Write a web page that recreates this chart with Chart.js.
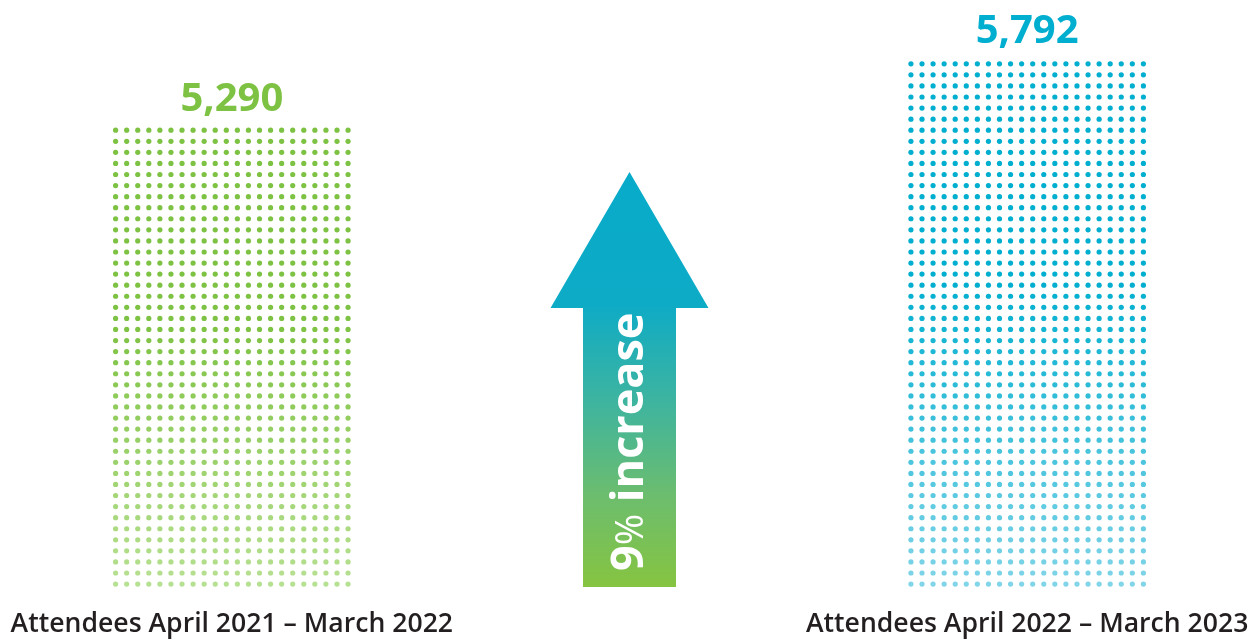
<!DOCTYPE html>
<html>
<head>
<meta charset="utf-8">
<style>
  html, body { margin: 0; padding: 0; background: #fff; overflow: hidden; }
</style>
<script src="https://cdn.jsdelivr.net/npm/chart.js@4.4.1/dist/chart.umd.min.js"></script>
</head>
<body>
<canvas id="attendeesChart" width="1260" height="639"></canvas>
<script>
// data
const categories = ['Attendees April 2021 – March 2022', '', 'Attendees April 2022 – March 2023'];
const attendees = [5290, null, 5792];
const valueLabels = ['5,290', '', '5,792'];
const increaseText = ['9', '%', ' increase'];

// colours (top of bar -> bottom of bar)
const topColors = ['#7dc242', null, '#00aecf'];
const bottomColors = ['#b8e193', null, '#82d5e8'];

const yMin = 1850, yMax = 6170;
const DOT_PITCH = 11.07, DOT_R = 2.6;
const FONT = '"Open Sans", "Noto Sans", sans-serif';

function hexToRgb(h) {
    const n = parseInt(h.slice(1), 16);
    return [(n >> 16) & 255, (n >> 8) & 255, n & 255];
}
function mix(a, b, t) {
    const ca = hexToRgb(a), cb = hexToRgb(b);
    return `rgb(${ca.map((v, i) => Math.round(v + (cb[i] - v) * t)).join(',')})`;
}

/**
 * 막대를 점 패턴으로 그리고 위에 값 라벨을 붙입니다.
 */
const dotBarsPlugin = {
    id: 'dotBars',
    afterDatasetsDraw(chart) {
        const ctx = chart.ctx;
        const meta = chart.getDatasetMeta(0);
        meta.data.forEach((bar, i) => {
            if (attendees[i] == null) return;
            const { x, y, base, width } = bar.getProps(['x', 'y', 'base', 'width'], true);
            const cols = Math.round(width / DOT_PITCH);
            const x0 = x - (cols - 1) * DOT_PITCH / 2;
            const fadeStart = y + (base - y) * 0.42;
            ctx.save();
            for (let cy = base - 3; cy >= y + 2; cy -= DOT_PITCH) {
                const t = Math.max(0, (cy - fadeStart) / (base - fadeStart));
                ctx.fillStyle = mix(topColors[i], bottomColors[i], t);
                for (let c = 0; c < cols; c++) {
                    ctx.beginPath();
                    ctx.arc(x0 + c * DOT_PITCH, cy, DOT_R, 0, Math.PI * 2);
                    ctx.fill();
                }
            }
            // 값 라벨
            ctx.fillStyle = topColors[i];
            ctx.font = `bold 40px ${FONT}`;
            ctx.textAlign = 'center';
            ctx.textBaseline = 'alphabetic';
            ctx.fillText(valueLabels[i], x, y - 17);
            ctx.restore();
        });
    }
};

/**
 * 가운데 증가 화살표
 */
const arrowPlugin = {
    id: 'increaseArrow',
    afterDatasetsDraw(chart) {
        const ctx = chart.ctx;
        const cx = chart.scales.x.getPixelForValue(1);
        const base = chart.scales.y.bottom;
        const headTop = 172, headBase = 308, headHalf = 79, shaftHalf = 46.5;

        ctx.save();
        const grad = ctx.createLinearGradient(0, headTop, 0, base);
        grad.addColorStop(0, '#07abca');
        grad.addColorStop(0.32, '#0eabc6');
        grad.addColorStop(0.55, '#3db4a0');
        grad.addColorStop(0.78, '#6cbd6e');
        grad.addColorStop(1, '#86c440');
        ctx.fillStyle = grad;
        ctx.beginPath();
        ctx.moveTo(cx, headTop);
        ctx.lineTo(cx + headHalf, headBase);
        ctx.lineTo(cx + shaftHalf, headBase);
        ctx.lineTo(cx + shaftHalf, base);
        ctx.lineTo(cx - shaftHalf, base);
        ctx.lineTo(cx - shaftHalf, headBase);
        ctx.lineTo(cx - headHalf, headBase);
        ctx.closePath();
        ctx.fill();

        // 세로 텍스트
        ctx.translate(cx + 13, 571);
        ctx.rotate(-Math.PI / 2);
        ctx.fillStyle = '#ffffff';
        ctx.textBaseline = 'alphabetic';
        ctx.textAlign = 'left';
        const fonts = [`bold 45px ${FONT}`, `38px ${FONT}`, `bold 45px ${FONT}`];
        let px = 0;
        increaseText.forEach((part, k) => {
            ctx.font = fonts[k];
            ctx.fillText(part, px, 0);
            px += ctx.measureText(part).width;
        });
        ctx.restore();
    }
};

new Chart(document.getElementById('attendeesChart'), {
    type: 'bar',
    data: {
        labels: categories,
        datasets: [{
            data: attendees,
            base: yMin,
            backgroundColor: 'rgba(0,0,0,0)',
            borderWidth: 0,
            barThickness: 244
        }]
    },
    options: {
        responsive: false,
        animation: false,
        devicePixelRatio: 1,
        layout: { padding: { top: 10, left: 33, right: 34, bottom: 0 } },
        plugins: { legend: { display: false }, tooltip: { enabled: false } },
        scales: {
            x: {
                grid: { display: false, drawTicks: true, tickLength: 23 },
                border: { display: false },
                ticks: {
                    autoSkip: false,
                    maxRotation: 0,
                    minRotation: 0,
                    padding: -1.5,
                    color: '#231f20',
                    font: { family: FONT, size: 26.6, weight: '600' }
                }
            },
            y: { display: false, min: yMin, max: yMax }
        }
    },
    plugins: [dotBarsPlugin, arrowPlugin]
});
</script>
</body>
</html>
